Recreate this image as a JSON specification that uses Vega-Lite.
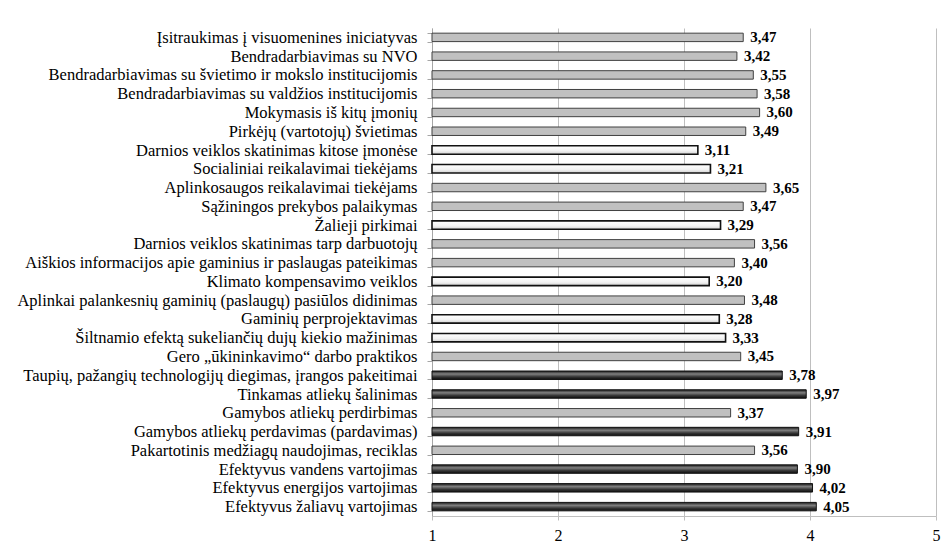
{
  "$schema": "https://vega.github.io/schema/vega-lite/v6.json",
  "autosize": "none",
  "padding": {"left": 432, "top": 28, "right": 11, "bottom": 29},
  "width": 504,
  "height": 488,
  "background": "white",
  "data": {
    "values": [
      {"veikla": "Įsitraukimas į visuomenines iniciatyvas", "vidurkis": 3.47, "grupe": "pilka"},
      {"veikla": "Bendradarbiavimas su NVO", "vidurkis": 3.42, "grupe": "pilka"},
      {"veikla": "Bendradarbiavimas su švietimo ir mokslo institucijomis", "vidurkis": 3.55, "grupe": "pilka"},
      {"veikla": "Bendradarbiavimas su valdžios institucijomis", "vidurkis": 3.58, "grupe": "pilka"},
      {"veikla": "Mokymasis iš kitų įmonių ", "vidurkis": 3.60, "grupe": "pilka"},
      {"veikla": "Pirkėjų (vartotojų) švietimas", "vidurkis": 3.49, "grupe": "pilka"},
      {"veikla": "Darnios veiklos skatinimas kitose įmonėse", "vidurkis": 3.11, "grupe": "balta"},
      {"veikla": "Socialiniai reikalavimai tiekėjams", "vidurkis": 3.21, "grupe": "balta"},
      {"veikla": "Aplinkosaugos reikalavimai tiekėjams", "vidurkis": 3.65, "grupe": "pilka"},
      {"veikla": "Sąžiningos prekybos palaikymas", "vidurkis": 3.47, "grupe": "pilka"},
      {"veikla": "Žalieji pirkimai", "vidurkis": 3.29, "grupe": "balta"},
      {"veikla": "Darnios veiklos skatinimas tarp darbuotojų", "vidurkis": 3.56, "grupe": "pilka"},
      {"veikla": "Aiškios informacijos apie gaminius ir paslaugas pateikimas", "vidurkis": 3.40, "grupe": "pilka"},
      {"veikla": "Klimato kompensavimo veiklos", "vidurkis": 3.20, "grupe": "balta"},
      {"veikla": "Aplinkai palankesnių gaminių (paslaugų) pasiūlos didinimas", "vidurkis": 3.48, "grupe": "pilka"},
      {"veikla": "Gaminių perprojektavimas ", "vidurkis": 3.28, "grupe": "balta"},
      {"veikla": "Šiltnamio efektą sukeliančių dujų kiekio mažinimas", "vidurkis": 3.33, "grupe": "balta"},
      {"veikla": "Gero „ūkininkavimo“ darbo praktikos", "vidurkis": 3.45, "grupe": "pilka"},
      {"veikla": "Taupių, pažangių technologijų diegimas, įrangos pakeitimai", "vidurkis": 3.78, "grupe": "tamsi"},
      {"veikla": "Tinkamas atliekų šalinimas", "vidurkis": 3.97, "grupe": "tamsi"},
      {"veikla": "Gamybos atliekų perdirbimas", "vidurkis": 3.37, "grupe": "pilka"},
      {"veikla": "Gamybos atliekų perdavimas (pardavimas) ", "vidurkis": 3.91, "grupe": "tamsi"},
      {"veikla": "Pakartotinis medžiagų naudojimas, reciklas", "vidurkis": 3.56, "grupe": "pilka"},
      {"veikla": "Efektyvus vandens vartojimas", "vidurkis": 3.90, "grupe": "tamsi"},
      {"veikla": "Efektyvus energijos vartojimas", "vidurkis": 4.02, "grupe": "tamsi"},
      {"veikla": "Efektyvus žaliavų vartojimas", "vidurkis": 4.05, "grupe": "tamsi"}
    ]
  },
  "encoding": {
    "y": {
      "field": "veikla",
      "type": "nominal",
      "sort": null,
      "title": null,
      "scale": {"paddingInner": 0.55, "paddingOuter": 0.275},
      "axis": {
        "tickBand": "extent",
        "tickSize": 5,
        "labelPadding": 10,
        "labelFont": "Liberation Serif",
        "labelFontSize": 16.5,
        "labelColor": "black",
        "labelLimit": 600,
        "domainColor": "#a6a6a6",
        "tickColor": "#a6a6a6",
        "grid": false
      }
    },
    "x": {
      "field": "vidurkis",
      "type": "quantitative",
      "title": null,
      "scale": {"domain": [1, 5], "nice": false, "zero": false},
      "axis": {
        "values": [1, 2, 3, 4, 5],
        "format": "d",
        "grid": true,
        "gridColor": "#bfbfbf",
        "gridOpacity": 1,
        "domainColor": "#bfbfbf",
        "tickColor": "#bfbfbf",
        "tickSize": 4,
        "labelPadding": 7,
        "labelFont": "Liberation Serif",
        "labelFontSize": 16,
        "labelColor": "black",
        "labelFlush": false
      }
    }
  },
  "layer": [
    {
      "mark": {"type": "bar"},
      "encoding": {
        "x2": {"datum": 1},
        "fill": {
          "condition": [
            {"test": "datum.grupe === 'tamsi'", "value": {"gradient": "linear", "x1": 0, "y1": 0, "x2": 0, "y2": 1,
              "stops": [{"offset": 0, "color": "#1a1a1a"}, {"offset": 0.35, "color": "#808080"}, {"offset": 0.7, "color": "#333333"}, {"offset": 1, "color": "#111111"}]}},
            {"test": "datum.grupe === 'balta'", "value": {"gradient": "linear", "x1": 0, "y1": 0, "x2": 0, "y2": 1,
              "stops": [{"offset": 0, "color": "#ffffff"}, {"offset": 0.6, "color": "#f2f2f2"}, {"offset": 1, "color": "#cfcfcf"}]}}
          ],
          "value": "#c0c0c0"
        },
        "stroke": {
          "condition": [{"test": "datum.grupe === 'pilka'", "value": "#404040"}],
          "value": "#111111"
        },
        "strokeWidth": {
          "condition": [{"test": "datum.grupe === 'balta'", "value": 1.6}],
          "value": 1
        }
      }
    },
    {
      "mark": {"type": "text", "align": "left", "baseline": "middle", "dx": 7, "font": "Liberation Serif", "fontSize": 15, "fontWeight": "bold", "color": "black"},
      "encoding": {"text": {"field": "vidurkis", "type": "quantitative", "format": ".2f"}}
    }
  ],
  "config": {
    "view": {"stroke": null},
    "locale": {"number": {"decimal": ",", "thousands": " ", "grouping": [3], "currency": ["", " €"]}}
  }
}
